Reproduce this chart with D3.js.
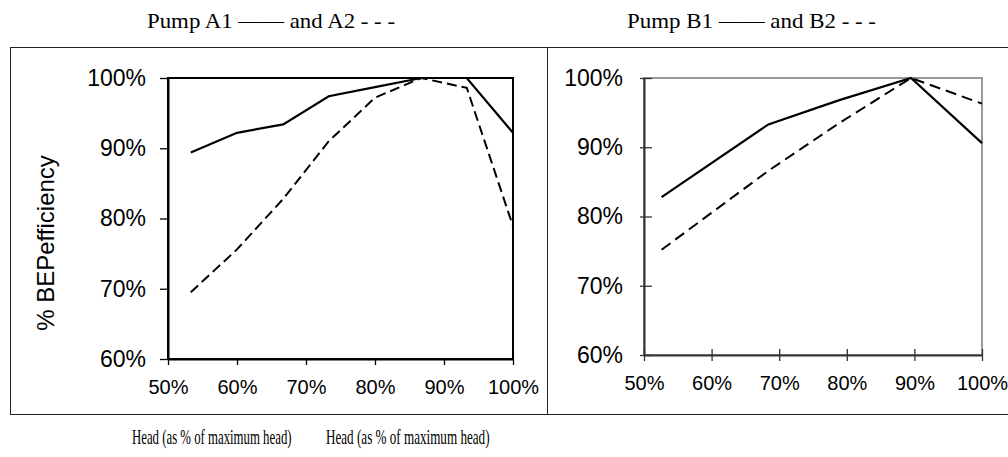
<!DOCTYPE html>
<html lang="en">
<head>
<meta charset="UTF-8">
<title>Pump BEP efficiency</title>
<style>
    body { margin: 0; background: #fff; }
    svg { display: block; }
    .tick text { font-family: "Liberation Sans", Arial, sans-serif; fill: #000; }
    .ttl { font-family: "Liberation Serif", "Times New Roman", serif; fill: #000; }
</style>
</head>
<body>
<svg id="chart" width="1008" height="457"></svg>
<script src="https://cdn.jsdelivr.net/npm/d3@7/dist/d3.min.js"></script>
<script>
    // data (head % of max head -> % of BEP efficiency)
    const headA = [53.3, 60, 66.7, 73.3, 80, 86.7, 93.3, 100];
    const effA1 = [89.4, 92.2, 93.4, 97.4, 98.7, 100, 100, 92.2];
    const effA2 = [69.5, 75.6, 82.8, 91.0, 97.2, 100, 98.6, 78.9];

    const headB = [52.6, 68.4, 78.9, 89.5, 100];
    const effB1 = [82.8, 93.3, 96.8, 100, 90.6];
    const effB2 = [75.2, 86.6, 93.5, 100, 96.3];

    const xTicks = [50, 60, 70, 80, 90, 100];
    const yTicks = [60, 70, 80, 90, 100];
    const titles = ["Pump A1 —— and A2 - - -", "Pump B1 —— and B2 - - -"];
    const xTitle = "Head (as % of maximum head)";
    const yTitle = "% BEPefficiency";

    const svg = d3.select("#chart");
    const pct = d => d + "%";

    // outer boxes
    svg.append("rect").attr("x", 10.5).attr("y", 47.5).attr("width", 537).attr("height", 367)
        .attr("fill", "none").attr("stroke", "#222").attr("stroke-width", 1);
    svg.append("rect").attr("x", 547.5).attr("y", 47.5).attr("width", 470).attr("height", 367)
        .attr("fill", "none").attr("stroke", "#222").attr("stroke-width", 1);

    function panel(cfg) {
        const x = d3.scaleLinear().domain([50, 100]).range([cfg.left, cfg.right]);
        const y = d3.scaleLinear().domain([60, 100]).range([cfg.bottom, cfg.top]);

        // frame
        svg.append("rect")
            .attr("x", cfg.left).attr("y", cfg.top)
            .attr("width", cfg.right - cfg.left).attr("height", cfg.bottom - cfg.top)
            .attr("fill", "none").attr("stroke", cfg.frame).attr("stroke-width", 2);

        const gy = svg.append("g").attr("transform", `translate(${cfg.left},0)`)
            .call(d3.axisLeft(y).tickValues(yTicks).tickFormat(pct)
                .tickSizeInner(cfg.ySize).tickSizeOuter(0).tickPadding(cfg.yPad));
        const gx = svg.append("g").attr("transform", `translate(0,${cfg.bottom})`)
            .call(d3.axisBottom(x).tickValues(xTicks).tickFormat(pct)
                .tickSizeInner(cfg.xSize).tickSizeOuter(0).tickPadding(cfg.xPad));

        [gy, gx].forEach(g => {
            g.select(".domain").attr("stroke", cfg.axis).attr("stroke-width", 2);
            g.selectAll(".tick line").attr("stroke", cfg.axis).attr("stroke-width", 1.3);
        });
        gy.selectAll(".tick text").style("font-size", "23px");
        gx.selectAll(".tick text").style("font-size", "20px");

        if (cfg.cross) {
            gy.selectAll(".tick line").attr("x1", 8);
            gx.selectAll(".tick line").attr("y1", -6);
        }

        const line = d3.line().x(d => x(d[0])).y(d => y(d[1]));
        svg.append("path").datum(cfg.head.map((h, i) => [h, cfg.s1[i]]))
            .attr("d", line).attr("fill", "none").attr("stroke", "#000").attr("stroke-width", 2.2);
        svg.append("path").datum(cfg.head.map((h, i) => [h, cfg.s2[i]]))
            .attr("d", line).attr("fill", "none").attr("stroke", "#000").attr("stroke-width", 2)
            .attr("stroke-dasharray", cfg.dash);
    }

    panel({ left: 168, right: 513, top: 78, bottom: 359, frame: "#000", axis: "#000",
        ySize: 8, yPad: 14, xSize: 6, xPad: 15, cross: false,
        head: headA, s1: effA1, s2: effA2, dash: "10,5" });
    panel({ left: 644, right: 982, top: 78, bottom: 355, frame: "#999", axis: "#333",
        ySize: 4, yPad: 17, xSize: 6, xPad: 15, cross: true,
        head: headB, s1: effB1, s2: effB2, dash: "11,6" });

    // y axis title
    svg.append("text")
        .attr("transform", "translate(54,243) rotate(-90)")
        .attr("text-anchor", "middle")
        .style("font-family", "'Liberation Sans', Arial, sans-serif")
        .style("font-size", "24px")
        .text(yTitle);

    // titles above and axis names below
    [[147, 248], [627, 249]].forEach((p, i) => {
        svg.append("text").attr("class", "ttl")
            .attr("x", p[0]).attr("y", 28)
            .attr("textLength", p[1]).attr("lengthAdjust", "spacingAndGlyphs")
            .style("font-size", "21px")
            .text(titles[i]);
    });
    [[132, 0.61], [326, 0.625]].forEach(p => {
        svg.append("text").attr("class", "ttl")
            .attr("transform", `translate(${p[0]},444) scale(${p[1]},1)`)
            .style("font-size", "21px")
            .text(xTitle);
    });
</script>
</body>
</html>
